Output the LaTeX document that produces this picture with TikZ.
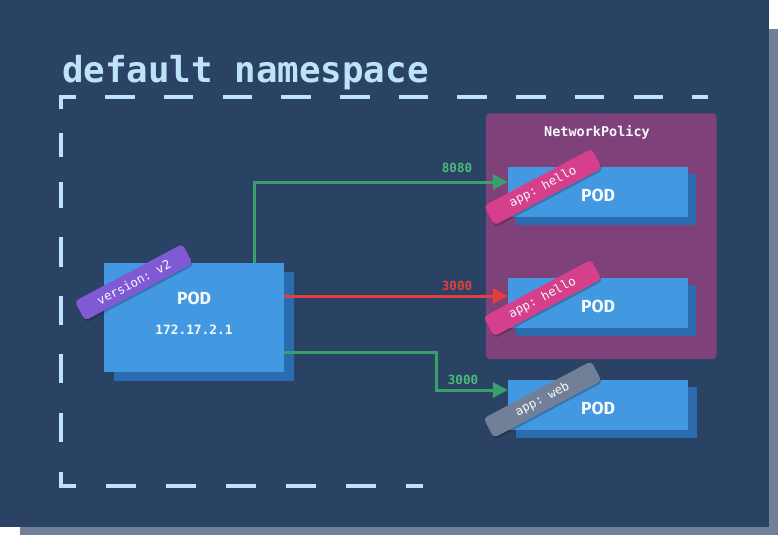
\documentclass[tikz,border=0pt]{standalone}
\usepackage{fontspec}
\setmonofont{DejaVu Sans Mono}
\newfontfamily\podfont{Fira Sans}
\usetikzlibrary{arrows.meta,calc}
\definecolor{navy}{HTML}{2A4365}
\definecolor{panelshadow}{HTML}{718096}
\definecolor{dashcol}{HTML}{BEE3F8}
\definecolor{npcol}{HTML}{7F4179}
\definecolor{podfg}{HTML}{4299E1}
\definecolor{podbg}{HTML}{2B6CB0}
\definecolor{pinklab}{HTML}{D53F8C}
\definecolor{purplelab}{HTML}{805AD5}
\definecolor{greylab}{HTML}{718096}
\definecolor{greenline}{HTML}{38A169}
\definecolor{greentext}{HTML}{48BB78}
\definecolor{redline}{HTML}{E53E3E}
\definecolor{offwhite}{HTML}{F7FAFC}
\tikzset{
  podbox/.style={fill=podfg, draw=none, minimum width=180pt, inner sep=0pt},
  podtext/.style={text=offwhite, font=\podfont\bfseries\fontsize{17.5}{20}\selectfont, inner sep=0pt},
  tagbox/.style={draw=none, rounded corners=4pt, minimum width=122pt, minimum height=22pt, inner sep=0pt,
    rotate=28, text=offwhite, font=\ttfamily\fontsize{12.3}{14}\selectfont},
  tagshade/.style={tagbox, fill=black, fill opacity=0.22},
  portlabel/.style={font=\ttfamily\bfseries\fontsize{12.6}{14}\selectfont, inner sep=0pt},
  conn/.style={line width=3pt, -{Triangle[length=15pt,width=15pt]}},
  dashline/.style={draw=dashcol, line width=4pt}
}
\newcommand{\podshadow}[2]{\fill[podbg] ([shift={(#2)}]#1.north west) rectangle ([shift={(#2)}]#1.south east);}
\begin{document}
\begin{tikzpicture}[x=1pt,y=-1pt]
\useasboundingbox (0,0) rectangle (778,535);
\fill[white] (0,0) rectangle (778,535);
\fill[panelshadow] (20,29) rectangle (778,535);
\fill[navy] (0,0) rectangle (768.5,526.5);

% title
\node[anchor=base west, inner sep=0pt, text=dashcol, font=\ttfamily\bfseries\fontsize{35.8}{40}\selectfont] (title) at (62,82) {default namespace};

% dashed frame
\draw[dashline, dash pattern=on 29.5pt off 29.2pt, dash phase=29.5pt] (76,97) -- (708,97);
\draw[dashline, dash pattern=on 30pt off 30pt, dash phase=30pt] (76,486) -- (423,486);
\draw[dashline, miter limit=10] (61,109) -- (61,97) -- (76,97);
\draw[dashline, miter limit=10] (61,472) -- (61,486) -- (76,486);
\foreach \a/\b in {133/157,182/208,237/267,296/325,354/383,413/442}
  \draw[dashline] (61,\a) -- (61,\b);

% network policy
\fill[npcol, rounded corners=4pt] (486,113.3) rectangle (716.7,359);
\node[text=offwhite, font=\ttfamily\bfseries\fontsize{13.5}{15}\selectfont, inner sep=0pt] (np) at (597,132) {NetworkPolicy};

% pods
\node[podbox, minimum height=50pt] (p1) at (598,192) {};
\node[podbox, minimum height=50pt] (p2) at (598,303) {};
\node[podbox, minimum height=50pt] (p3) at (598,405) {};
\node[podbox, minimum height=109pt] (lpod) at (194,317.5) {};
\podshadow{p1}{8,7.5}
\podshadow{p2}{8,7.5}
\podshadow{p3}{8.5,7.5}
\podshadow{lpod}{10,9}
\node[podbox, minimum height=50pt] at (p1) {};
\node[podbox, minimum height=50pt] at (p2) {};
\node[podbox, minimum height=50pt] at (p3) {};
\node[podbox, minimum height=109pt] at (lpod) {};
\node[podtext] (p1t) at ($(p1.center)+(0,3)$) {POD};
\node[podtext] (p2t) at ($(p2.center)+(0,3)$) {POD};
\node[podtext] (p3t) at ($(p3.center)+(0,3)$) {POD};
\node[podtext] (lpodt) at (194,298) {POD};
\node[text=offwhite, font=\ttfamily\bfseries\fontsize{12.8}{14}\selectfont, inner sep=0pt] (lpodip) at (194,330) {172.17.2.1};

% connectors
\coordinate (g1s) at ($(lpod.north west)+(151,0)$);
\coordinate (g1e) at ($(p1.west)+(0,-10)$);
\draw[conn, greenline] (g1s) |- (g1e);
\coordinate (r1s) at ($(lpod.east)+(0,-21.5)$);
\draw[conn, redline] (r1s) -- (r1s -| p2.west);
\coordinate (g2s) at ($(lpod.east)+(0,34.5)$);
\coordinate (g2e) at ($(p3.west)+(0,-15)$);
\draw[conn, greenline] (g2s) -- ++(152,0) |- (g2e);
\node[portlabel, text=greentext] (l8080) at (457,168) {8080};
\node[portlabel, text=redline] (l3000a) at (457,286) {3000};
\node[portlabel, text=greentext] (l3000b) at (463,380) {3000};

% tags
\node[tagshade] (tagvs) at (134.7,284.3) {};
\node[tagbox, fill=purplelab] (tagv) at (133.7,282.3) {version: v2};
\node[tagshade] (tag1s) at (544,189) {};
\node[tagbox, fill=pinklab] (tag1) at (543,187) {app: hello};
\node[tagshade] (tag2s) at (543.5,300) {};
\node[tagbox, fill=pinklab] (tag2) at (542.5,298) {app: hello};
\node[tagshade] (tag3s) at (543.5,401.5) {};
\node[tagbox, fill=greylab] (tag3) at (542.5,399.5) {app: web};
\end{tikzpicture}
\end{document}
